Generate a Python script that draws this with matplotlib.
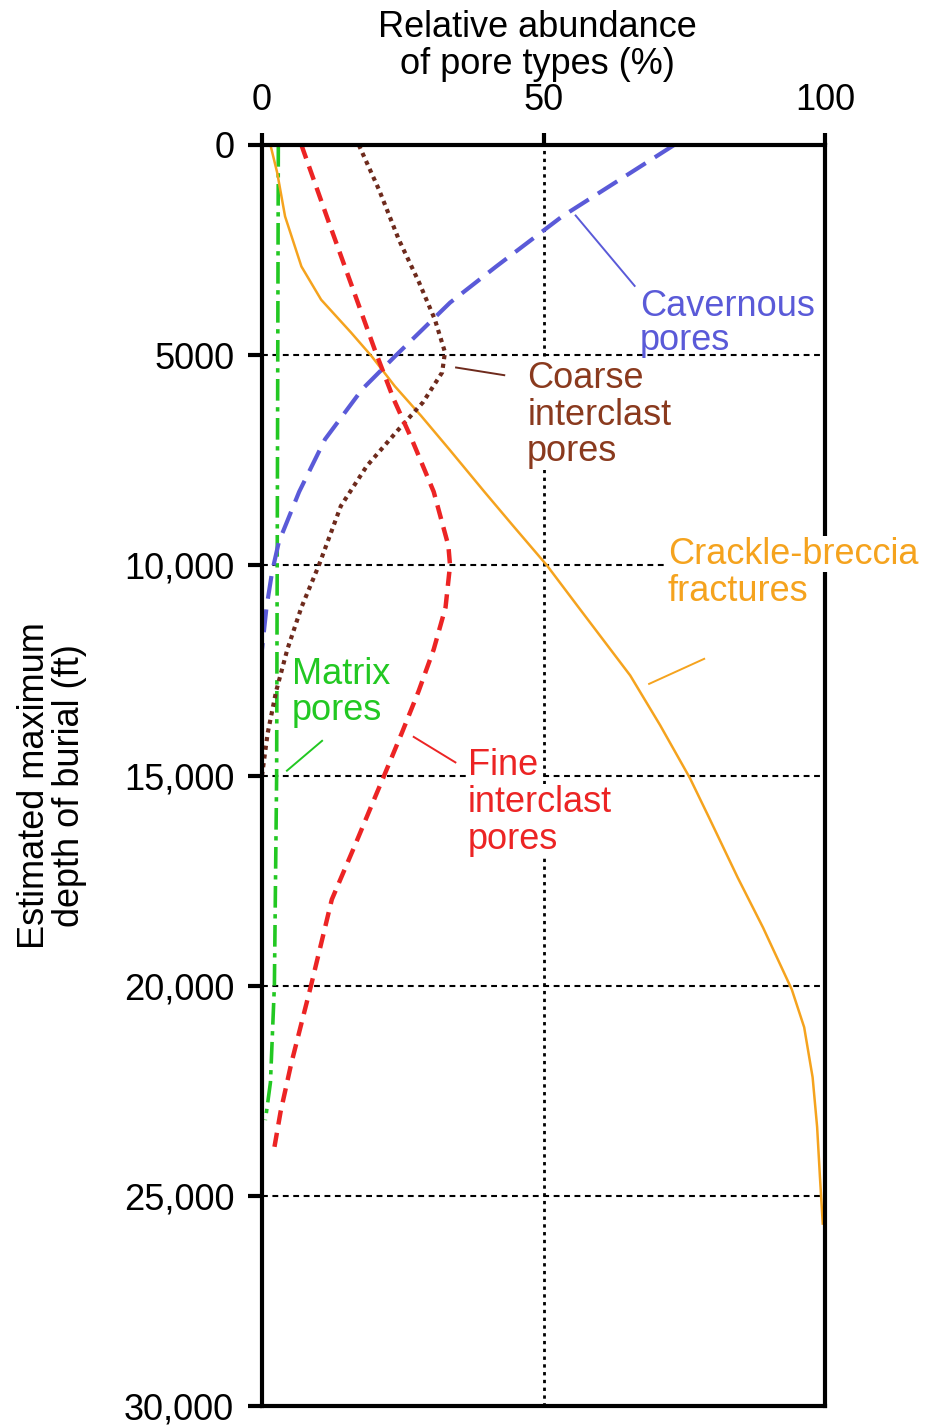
import matplotlib.pyplot as plt
import numpy as np

plt.rcParams['font.family'] = ['Liberation Sans', 'DejaVu Sans']

W, H = 930, 1427
FS = 26

# pore-type curves, depth in ft, abundance in %
cav_depth = [0, 1700, 2890, 3750, 5030, 5810, 7000, 8250, 9440, 10150, 11000, 12000]
cav_pct = [73.2, 53.3, 41.6, 33.4, 23.6, 17.8, 11.2, 6.6, 3, 1.8, 0.8, 0]

coarse_depth = [0, 1070, 2250, 3270, 4150, 4930, 5410, 6120, 6760, 7640, 8590,
                10000, 11000, 12000, 13000, 14000, 15000]
coarse_pct = [17.2, 20.8, 24.3, 27.9, 30.7, 32.5, 32, 28.6, 24.3, 18.6, 14.0,
              10.1, 7, 4.5, 2.5, 1, 0]

fine_depth = [0, 1850, 3370, 4860, 6050, 7000, 8250, 9530, 10000, 11000, 12000,
              13000, 14000, 15000, 15700, 16600, 17950, 20000, 21850, 23000, 24000]
fine_pct = [7, 11.9, 16, 20, 23.4, 26.6, 30.5, 33.1, 33.4, 32.6, 30.5,
            27.8, 24.8, 21.7, 19.5, 16.7, 12.4, 8.7, 5.2, 3.3, 2]

matrix_depth = [0, 5000, 10000, 15000, 20000, 22300, 23200]
matrix_pct = [2.9, 2.8, 2.7, 2.6, 2.2, 1.5, 0.6]

crackle_depth = [0, 660, 1700, 2890, 3680, 4460, 5030, 5740, 6450, 7230, 8250, 9060,
                 10000, 11030, 12620, 13800, 15060, 16000, 17430, 18620, 20090,
                 20990, 22180, 23360, 24550, 25660]
crackle_pct = [1.5, 2.7, 4.1, 7.0, 10.5, 15.8, 19.5, 23.6, 28.3, 33.2, 39.5, 44.6,
               50.6, 56.4, 65.4, 70.7, 76, 79.4, 84.5, 89.0, 94.1,
               96.3, 97.8, 98.6, 99.1, 99.6]

ytick_vals = [0, 5000, 10000, 15000, 20000, 25000, 30000]
ytick_labels = ['0', '5000', '10,000', '15,000', '20,000', '25,000', '30,000']
xtick_vals = [0, 50, 100]

c_cav = '#5a5ad8'
c_coarse = '#6e2a1c'
c_coarse_txt = '#8a3a1e'
c_fine = '#ec2424'
c_matrix = '#22c822'
c_crackle = '#f5a31e'

# labels: (lines, x %, baseline depths, colour, white background)
labels = [
    (['Cavernous', 'pores'], 67.1, [4060, 4870], c_cav, False),
    (['Coarse', 'interclast', 'pores'], 47.1, [5770, 6650, 7520], c_coarse_txt, True),
    (['Crackle-breccia', 'fractures'], 72.1, [9960, 10840], c_crackle, True),
    (['Matrix', 'pores'], 5.3, [12830, 13680], c_matrix, False),
    (['Fine', 'interclast', 'pores'], 36.6, [14990, 15870, 16740], c_fine, True),
]

# leader lines: x0, d0, x1, d1
leaders = [
    (55.6, 1660, 66.3, 3370, c_cav),
    (34.3, 5290, 43.2, 5480, c_coarse),
    (68.6, 12830, 78.7, 12215, c_crackle),
    (4.3, 14900, 10.8, 14160, c_matrix),
    (26.8, 14070, 34.5, 14700, c_fine),
]

fig = plt.figure(figsize=(W / 100, H / 100), dpi=100)
ax = fig.add_axes([262 / W, 1 - 1406 / H, (825 - 262) / W, (1406 - 145) / H])

ax.set_xlim(0, 100)
ax.set_ylim(30000, 0)

# grid
ax.set_xticks(xtick_vals)
ax.set_yticks(ytick_vals)
ax.set_yticklabels(ytick_labels)
ax.grid(axis='x', color='black', lw=2.0, ls=(0, (1.2, 1.6)))
ax.grid(axis='y', color='black', lw=1.5, ls=(0, (2.8, 2.2)))
ax.set_axisbelow(True)

ax.plot(matrix_pct, matrix_depth, color=c_matrix, lw=2.6, ls=(0, (6, 1.8, 1.2, 1.8)))
ax.plot(crackle_pct, crackle_depth, color=c_crackle, lw=1.8)
ax.plot(coarse_pct, coarse_depth, color=c_coarse, lw=3.0, ls=(0, (1, 1.1)))
ax.plot(fine_pct, fine_depth, color=c_fine, lw=3.2, ls=(0, (3.2, 1.9)))
ax.plot(cav_pct, cav_depth, color=c_cav, lw=3.0, ls=(0, (5.5, 2.6)))

for x0, d0, x1, d1, col in leaders:
    ax.plot([x0, x1], [d0, d1], color=col, lw=1.4, solid_capstyle='butt')

for lines, x, bases, col, bg in labels:
    for txt, d in zip(lines, bases):
        kw = {}
        if bg:
            kw['bbox'] = dict(facecolor='white', edgecolor='none', pad=0.5)
        ax.text(x, d, txt, color=col, fontsize=FS, ha='left', va='baseline',
                clip_on=False, zorder=4, **kw)

for s in ax.spines.values():
    s.set_linewidth(3.0)
    s.set_zorder(3)

ax.xaxis.tick_top()
ax.tick_params(axis='x', direction='out', length=9, width=3, labelsize=FS, pad=10.5)
ax.tick_params(axis='y', direction='out', length=10, width=3, labelsize=FS, pad=10)

# titles
fig.text(537 / W, 1 - 37 / H, 'Relative abundance', fontsize=FS, ha='center', va='baseline')
fig.text(537 / W, 1 - 74 / H, 'of pore types (%)', fontsize=FS, ha='center', va='baseline')
fig.text(52 / W, 1 - 786 / H, 'Estimated maximum\ndepth of burial (ft)', fontsize=FS,
         rotation=90, ha='center', va='center', multialignment='center', linespacing=1.0)

fig.savefig('out.png', dpi=100, facecolor='white')
